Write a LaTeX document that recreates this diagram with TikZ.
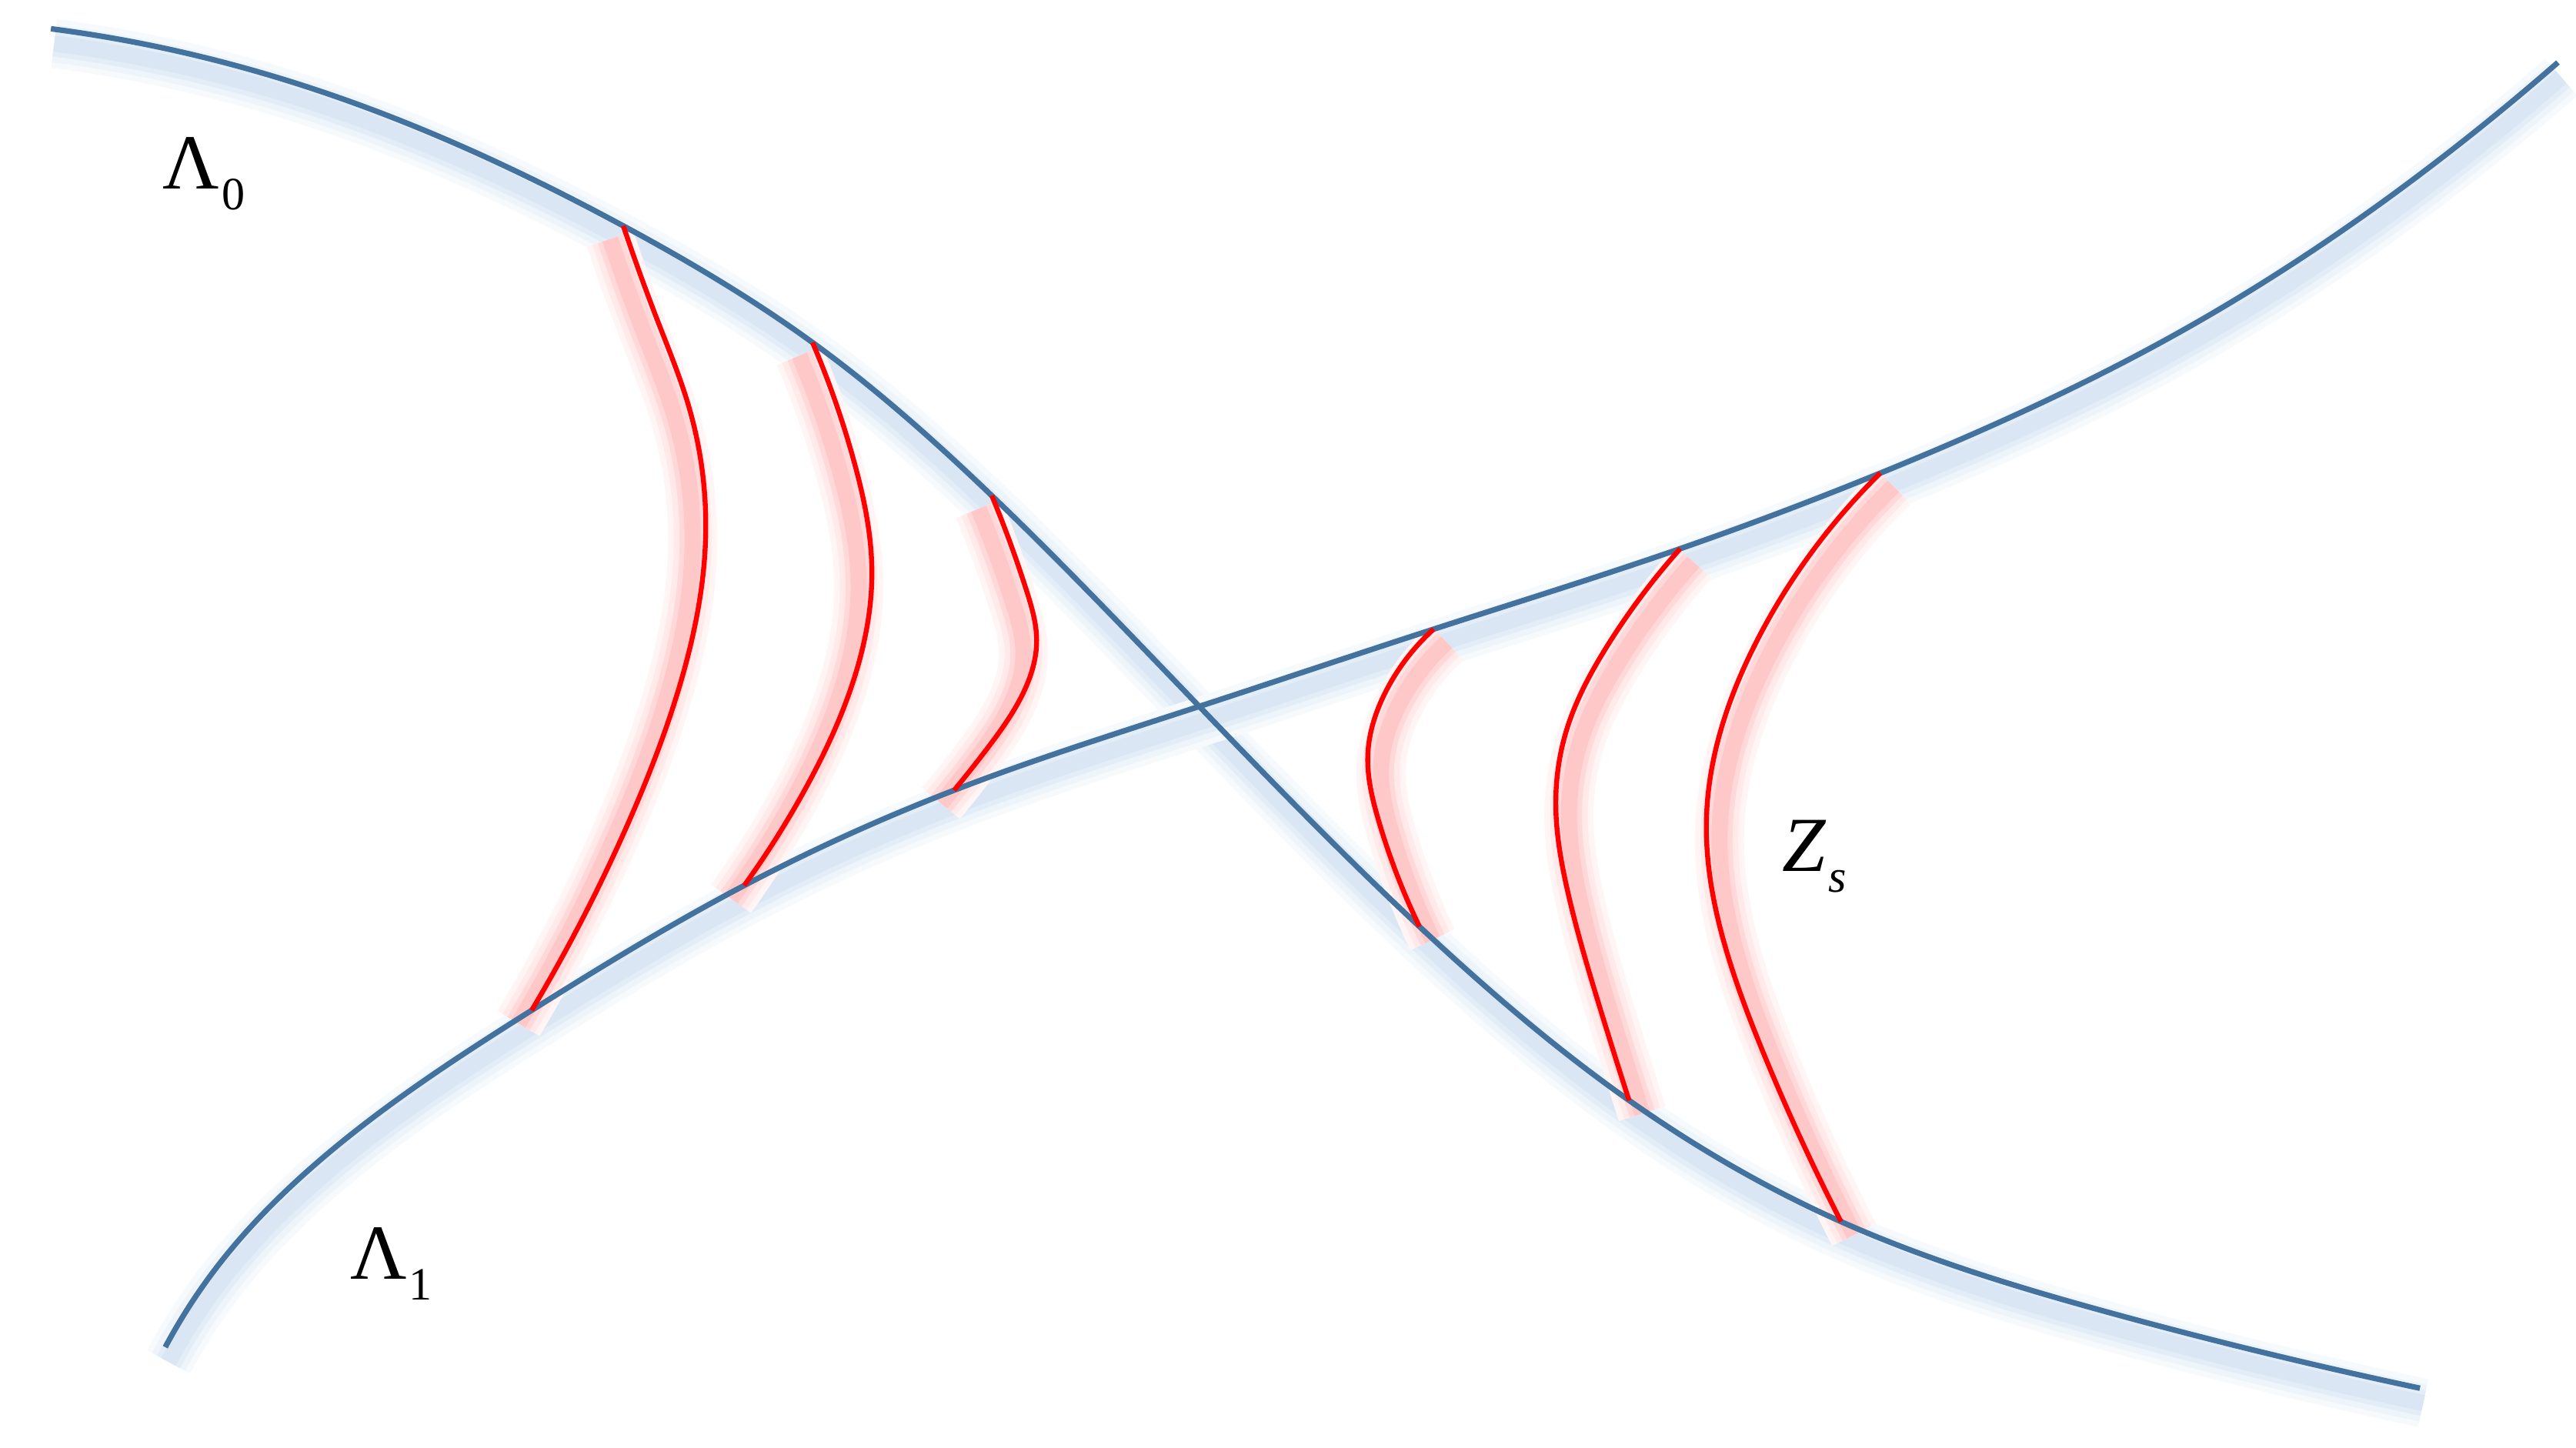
\documentclass[tikz,border=0pt]{standalone}
\usepackage{fontspec}
\setmainfont{Liberation Serif}
\usepackage{tikz}
\usetikzlibrary{hobby}
\pgfdeclarelayer{bg}
\pgfsetlayers{bg,main}

\definecolor{lamblue}{RGB}{68,114,158}
\definecolor{blueshadeA}{RGB}{247,250,253}
\definecolor{blueshadeB}{RGB}{237,244,250}
\definecolor{blueshadeC}{RGB}{227,237,247}
\definecolor{blueshadeD}{RGB}{218,230,243}
\definecolor{redshadeA}{RGB}{255,245,245}
\definecolor{redshadeB}{RGB}{255,233,233}
\definecolor{redshadeC}{RGB}{255,217,217}
\definecolor{redshadeD}{RGB}{255,200,200}

\tikzset{
  lamline/.style={draw=lamblue, line width=0.95pt, use Hobby shortcut},
  fibre/.style={draw=red, line width=0.85pt, use Hobby shortcut},
  lab/.style={anchor=base west, inner sep=0pt, font=\fontsize{13.5}{16}\selectfont},
}

\newcommand\subtxt[1]{\kern0.4pt\raisebox{-3.6pt}{\fontsize{8}{10}\selectfont #1}}

% #1 style, #2 shade colour, #3 shadow shift, #4 path
\newcommand\glowpath[4]{%
  \begin{pgfonlayer}{bg}
    \begin{scope}[transform canvas={shift={#3}}]
      \foreach \w/\c in {8.5/#2A,6.5/#2B,4.5/#2C,2.8/#2D}
        \draw[use Hobby shortcut, line width=\w pt, color=\c] #4;
    \end{scope}
  \end{pgfonlayer}
  \draw[#1] #4;
}

\begin{document}
\begin{tikzpicture}[x=0.01cm, y=-0.01cm]
        \useasboundingbox (0,0) rectangle (1568,881);

        % end points on Lambda_0 and Lambda_1
        \coordinate (a1) at (379.4,137.5);
        \coordinate (a2) at (494.6,208.5);
        \coordinate (a3) at (603.7,301.7);
        \coordinate (b1) at (323.6,615);
        \coordinate (b2) at (453,539);
        \coordinate (b3) at (580.8,481);
        \coordinate (c1) at (872.6,383);
        \coordinate (c2) at (1022.7,334);
        \coordinate (c3) at (1144.5,288);
        \coordinate (d1) at (864,564);
        \coordinate (d2) at (991.6,669.8);
        \coordinate (d3) at (1120.6,743.6);
        \coordinate (x) at (730,430);

        \glowpath{lamline}{blueshade}{(0.02cm,-0.09cm)}{(31,17.5) .. (107.5,31) .. (215,62.5) .. (a1) .. (a2) .. (a3) .. (x) .. (d1) .. (d2) .. (d3) .. (1284,799) .. (1473,845)}
        \glowpath{lamline}{blueshade}{(0.02cm,-0.09cm)}{(100.6,820) .. (133,770) .. (195.6,705.5) .. (b1) .. (b2) .. (b3) .. (x) .. (c1) .. (c2) .. (c3) .. (1329.5,200.6) .. (1497,87.7) .. (1557,38)}

        \glowpath{fibre}{redshade}{(-0.08cm,-0.08cm)}{(a1) .. (400.5,195.8) .. (419.6,248.6) .. (429.5,327.4) .. (415,413) .. (383.7,498) .. (b1)}
        \glowpath{fibre}{redshade}{(-0.08cm,-0.08cm)}{(a2) .. (520,281.5) .. (530.7,347) .. (520,412.7) .. (491,478.7) .. (b2)}
        \glowpath{fibre}{redshade}{(-0.08cm,-0.08cm)}{(a3) .. (625,360) .. (631,389.7) .. (622.5,422.5) .. (601,455.5) .. (b3)}
        \glowpath{fibre}{redshade}{(0.08cm,-0.08cm)}{(c1) .. (844,420) .. (832.6,459.5) .. (839,499) .. (d1)}
        \glowpath{fibre}{redshade}{(0.08cm,-0.08cm)}{(c2) .. (978,393.7) .. (954,443) .. (947,489) .. (954,541.5) .. (973,610.6) .. (d2)}
        \glowpath{fibre}{redshade}{(0.08cm,-0.08cm)}{(c3) .. (1071,387) .. (1047,446) .. (1038.7,499) .. (1049.5,574) .. (1073,640) .. (d3)}

        \node (lam0) [lab] at (98.4,114.8) {Λ\subtxt{0}};
        \node (lam1) [lab] at (212.6,778.5) {Λ\subtxt{1}};
        \node (zs) [lab] at (1084.3,530.2) {\textit{Z}\subtxt{\textit{s}}};
\end{tikzpicture}
\end{document}
